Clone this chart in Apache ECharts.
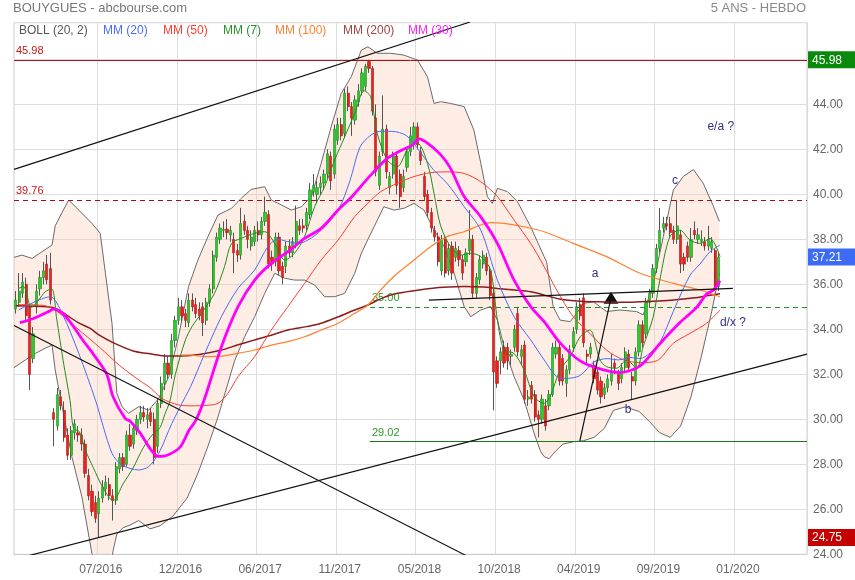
<!DOCTYPE html>
<html><head><meta charset="utf-8">
<script src="https://cdn.jsdelivr.net/npm/echarts@6/dist/echarts.min.js"></script>
<style>html,body{margin:0;padding:0;background:#fff}#c{width:855px;height:580px}</style>
</head><body><div id="c"></div>
<script>
// ---- axis scaffolding ----
const categories = Array.from({length: 229}, (_, i) => 'S' + (i + 1));
const tickIndex = [24, 47, 70, 93, 116, 139, 162, 185, 208];
const tickLabels = ['07/2016','12/2016','06/2017','11/2017','05/2018','10/2018','04/2019','09/2019','01/2020'];

// ---- weekly candles (week index = array position) ----
const open = [34.9,35.2,35.6,36.0,35.0,32.7,35.0,35.8,36.3,36.9,36.7,30.3,29.7,31.0,30.4,29.3,28.4,29.4,29.4,29.3,
28.9,27.5,26.8,26.3,25.8,26.5,26.9,27.1,26.6,26.4,27.8,28.3,28.0,29.3,28.9,29.5,30.0,30.3,30.0,30.3,
30.0,28.8,30.7,31.6,32.5,32.0,33.5,34.4,35.0,34.7,34.3,35.3,35.1,34.9,35.0,34.4,35.2,35.8,37.2,38.0,
38.4,38.45,38.2,38.0,37.5,37.3,38.8,38.4,37.7,37.9,38.4,38.2,38.8,39.1,37.2,37.0,38.1,36.8,36.8,37.7,
37.4,37.8,38.6,38.6,38.6,39.1,40.1,40.0,40.3,40.5,40.9,41.7,40.9,42.4,43.1,42.7,44.5,43.9,43.3,44.1,
44.6,44.8,45.9,45.6,43.4,40.4,41.9,42.9,40.3,40.9,41.7,40.9,40.3,41.2,41.9,42.3,43.0,41.9,40.8,40.0,
39.2,38.4,38.1,36.6,38.0,36.6,37.7,37.2,37.5,37.1,37.0,37.5,38.0,35.6,36.2,36.9,37.2,36.6,35.6,32.6,
32.6,33.2,33.2,32.8,33.2,34.7,32.8,33.3,30.9,31.5,31.1,30.2,30.0,30.6,30.6,31.1,32.9,33.2,32.7,31.6,
32.2,33.2,34.0,35.1,35.4,32.9,32.9,32.4,32.1,31.7,31.1,31.4,31.7,32.5,32.0,31.8,32.3,32.9,31.9,31.7,
33.0,34.2,33.8,35.2,35.6,36.7,37.6,38.5,38.7,38.7,38.4,38.0,38.2,37.2,37.7,37.2,38.4,38.0,37.9,37.9,
37.7,37.6,37.5,35.9];
const high = [35.7,36.5,36.5,36.3,35.1,34.1,36.0,36.6,37.0,37.3,37.4,30.5,31.4,31.3,30.8,29.6,29.7,30.0,29.7,29.6,
29.1,27.8,27.1,26.6,26.8,27.3,27.5,27.4,26.9,28.1,28.5,28.5,29.5,29.8,29.8,30.2,30.6,30.6,30.5,30.5,
30.3,30.9,31.9,32.9,32.8,33.8,34.6,35.4,35.3,34.9,35.6,35.6,35.4,35.2,35.2,35.4,36.0,37.5,38.3,38.7,
38.8,38.9,38.6,38.3,37.8,39.4,39.1,38.6,38.4,38.6,38.8,39.0,39.9,39.3,37.5,38.3,38.3,37.0,37.9,38.0,
38.1,39.5,38.9,38.9,39.4,40.5,40.9,40.6,40.8,41.1,42.0,41.9,43.1,43.4,43.4,44.7,44.8,44.1,44.4,44.9,
45.6,45.8,45.98,45.7,44.0,41.9,44.4,43.1,41.0,41.9,41.9,41.1,41.1,42.1,43.0,43.2,43.2,42.1,41.0,40.2,
39.4,38.6,38.3,38.2,38.2,37.8,37.9,37.9,37.7,37.3,37.6,39.3,38.2,36.5,37.3,37.5,37.4,36.8,35.8,32.8,
33.2,33.5,33.4,33.1,34.2,35.0,33.3,33.5,31.3,31.7,31.3,30.4,31.1,30.9,31.3,33.4,33.5,33.4,32.9,32.4,
33.3,34.1,35.2,35.4,35.6,33.1,33.4,32.6,32.3,31.9,31.6,32.0,32.9,32.7,32.2,32.5,33.2,33.1,32.1,33.2,
34.4,34.4,35.4,35.8,36.9,37.8,39.4,39.0,39.0,39.0,38.6,39.75,38.4,37.4,37.9,38.5,38.8,38.5,38.4,38.1,
38.6,38.1,37.6,37.4];
const low = [34.7,35.0,35.4,34.3,31.3,32.5,34.7,35.5,36.0,36.0,35.1,28.8,29.5,30.4,29.0,28.2,28.2,29.1,29.0,28.6,
27.4,26.4,25.7,25.4,24.75,26.3,26.6,26.4,25.5,26.2,27.6,27.7,27.9,28.6,28.7,29.3,29.8,29.9,29.6,29.7,
28.0,28.5,30.5,31.3,31.8,31.8,33.2,34.2,34.3,34.1,34.1,34.8,34.5,34.4,33.7,34.2,35.0,35.6,37.0,37.8,
38.1,38.0,37.9,36.5,37.0,37.1,38.2,37.6,37.5,37.7,37.9,38.0,38.6,36.7,36.6,36.8,36.4,36.0,36.5,37.2,
37.2,37.6,38.2,38.3,38.4,38.9,39.9,39.6,40.0,40.2,40.7,40.2,40.7,42.2,42.4,42.5,43.7,42.6,43.1,43.9,
44.4,44.6,45.4,43.5,40.8,40.2,41.7,40.7,40.0,40.7,40.0,39.4,40.1,41.0,41.7,42.0,42.0,41.3,39.7,39.0,
38.3,37.9,36.8,36.4,36.3,36.4,36.2,37.0,36.8,36.2,36.8,37.3,35.4,35.4,36.0,36.7,36.4,35.3,30.4,31.4,
32.0,32.3,32.2,32.4,33.0,32.8,32.4,30.7,30.6,30.7,29.9,29.2,29.8,29.5,30.4,31.0,32.7,31.5,31.5,31.0,
32.0,33.0,33.8,34.4,33.2,32.5,32.7,31.6,31.1,30.7,30.9,31.2,31.5,32.0,31.3,31.6,32.1,32.1,30.9,31.5,
32.8,33.2,33.6,35.0,35.4,36.5,37.4,38.3,38.4,38.1,37.8,37.8,36.5,36.6,37.0,37.0,38.0,37.8,37.7,37.5,
37.5,37.4,35.7,35.7];
const close = [35.3,35.7,36.1,34.6,32.0,33.8,35.7,36.3,36.6,36.2,35.3,30.0,31.1,30.6,29.2,28.4,29.5,29.8,29.3,28.9,
27.6,26.6,25.9,25.6,26.5,27.0,27.2,26.6,26.4,27.9,28.3,27.9,29.3,28.8,29.6,30.0,30.3,30.1,30.2,29.9,
28.3,30.7,31.6,32.5,32.0,33.5,34.4,35.0,34.6,34.4,35.3,35.0,34.7,34.6,34.3,35.2,35.8,37.3,38.1,38.5,
38.45,38.3,38.4,37.4,37.3,38.7,38.4,38.0,38.1,38.4,38.2,38.8,39.2,36.9,36.9,38.1,36.6,36.3,37.7,37.4,
37.9,38.8,38.4,38.5,39.2,40.2,40.4,40.3,40.5,40.9,41.8,40.6,42.9,43.1,42.6,44.5,43.9,43.4,44.2,44.6,
45.4,45.7,45.6,43.7,41.0,41.7,42.9,41.0,40.8,41.7,40.4,39.9,40.8,41.9,42.6,43.0,42.2,41.5,39.9,39.2,
38.5,38.1,37.0,38.0,36.5,37.6,36.5,37.6,37.1,36.5,37.4,38.0,35.6,36.3,37.1,37.3,36.6,35.5,32.1,31.6,
33.0,32.5,32.6,32.9,34.0,33.0,33.1,30.9,31.0,30.9,30.1,30.0,30.9,29.7,31.1,33.2,33.2,31.7,31.7,32.2,
33.1,33.9,35.0,34.6,33.4,32.8,33.2,31.8,31.3,31.0,31.4,31.8,32.1,32.3,31.6,32.3,33.0,32.3,31.7,33.0,
34.2,33.4,35.2,35.6,36.7,37.6,38.4,38.7,38.6,38.3,38.0,38.6,36.9,36.9,37.2,38.0,38.2,38.2,38.0,37.7,
38.0,37.9,35.9,37.21];

// ---- indicator lines: [week index, value] ----
const mm7 = [[0.8,35.82],[2.3,35.9],[4.5,34.97],[6.6,35.3],[8.5,35.67],[10.4,35.8],[11.8,34.5],[13.7,32.6],[15.7,30.82],[16.7,29.6],
[18.4,29.45],[20.1,28.64],[22.4,27.85],[25.2,26.96],[28.1,26.38],[31,27.13],[33.9,27.84],[36.8,28.73],[39.6,29.34],[41.7,29.64],
[43,30.2],[44.5,30.8],[46.1,32.0],[49,33.53],[50.9,34.12],[53.6,34.71],[57.4,35.6],[60.3,36.79],[62.3,37.82],[65.1,38.04],
[69,38.27],[71.9,38.34],[74.8,37.82],[77.7,37.08],[80.5,37.38],[83.4,38.12],[86.3,39.45],[89.2,40.34],[92.1,41.53],[95,42.56],
[97.9,43.6],[100.6,44.6],[102.5,44.34],[104.4,42.71],[107.3,41.53],[110.2,41.23],[113.1,41.97],[116,42.27],[118.9,41.38],[120.8,40.04],
[122.7,38.6],[125.6,37.67],[128.5,37.3],[131.4,37.38],[134.3,37.23],[137.1,36.64],[139.1,34.41],[141,33.08],[143.9,32.93],[146.8,32.19],
[149.7,31.01],[152.6,30.71],[154.3,31.01],[157.2,32.19],[160.1,32.79],[163,33.67],[165.8,33.97],[168.7,32.64],[170.6,32.34],[173.5,32.27],
[176.4,32.64],[179.3,32.27],[181.2,33.23],[184.1,34.56],[186,36.2],[188.9,38.12],[191.8,38.41],[194.7,37.97],[197.6,37.82],[200.5,38.04],[203.4,37.23]];
const mm20 = [[0.8,34.86],[6.6,35.3],[10,35.45],[13.4,34.71],[18.2,32.93],[23,30.86],[27.8,28.49],[30.7,27.97],[35.5,27.75],[38.4,27.9],
[41.3,28.49],[45.1,29.82],[49,31.01],[50.5,31.45],[54.6,32.93],[59.4,34.56],[64.2,35.82],[69,36.64],[72.8,37.67],[75.7,38.0],
[78.6,37.9],[81.5,37.82],[84.4,37.97],[88.2,38.41],[93.1,39.3],[96.5,40.6],[99.4,42.1],[102.3,42.6],[105,42.8],[108.6,42.8],
[112.9,42.6],[116.7,41.9],[120.6,41.1],[124.5,40.5],[129.5,39.45],[134.3,38.41],[139.1,36.19],[143.9,34.56],[148.7,33.53],[152.6,32.64],
[156.2,31.9],[159.1,31.82],[163,31.95],[167,32.55],[171,32.7],[174,32.64],[177.4,32.75],[180.3,32.7],[183.2,32.95],[186,33.4],
[189.9,34.8],[194.7,36.4],[197.6,36.9],[200.5,37.45],[203.4,37.75]];
const mm30 = [[1.2,34.3],[4.9,34.47],[9.9,34.82],[10.8,34.9],[13.7,34.69],[16.5,34.16],[19.5,33.49],[22.4,32.9],[26.3,32.0],[28.1,31.0],
[31.6,30.04],[33,29.93],[35.9,29.4],[38.8,28.7],[41.1,28.35],[43.7,28.4],[47.4,28.75],[50,29.5],[52,29.95],[54.5,30.9],
[59.4,33.23],[64.2,35.01],[69,36.19],[73.8,36.93],[78.6,37.45],[83.4,38.04],[88.2,38.49],[93.1,39.3],[97.4,39.95],[102.3,40.82],
[107.1,41.58],[111,41.93],[114.6,42.2],[116.5,42.47],[118.7,42.3],[122.5,41.8],[125.4,41.2],[129.5,39.9],[134.3,39.0],[139.1,37.82],
[143.9,36.19],[148.7,35.01],[152.6,34.34],[157.2,33.4],[163,32.6],[168.7,32.24],[174.5,32.08],[180.3,32.38],[186,33.36],[191.8,34.3],
[196.6,34.97],[199.5,35.57],[201.5,35.75],[203.4,36.16]];
const mm50 = [[0.8,35.1],[8.5,35.05],[12.8,34.7],[18.6,33.93],[24.3,33.19],[30.1,32.38],[35.9,31.71],[38.8,31.41],[42.2,30.93],[47,30.64],
[50.9,30.6],[55,30.62],[58.4,30.71],[61.3,31.16],[64.2,31.9],[69,32.79],[73.8,33.97],[78.6,35.01],[83.4,36.04],[88.2,37.08],
[93.1,37.97],[97.9,39.01],[101.7,39.6],[105.4,40.12],[110.2,40.49],[115,40.79],[119.8,40.96],[124.6,41.0],[129.5,40.93],[134.3,40.56],
[139.1,39.9],[143.9,38.86],[148.7,37.82],[152.6,36.79],[156.2,35.75],[161,34.56],[165.8,33.82],[170.6,33.08],[175.5,32.64],[180.3,32.52],
[185.1,32.6],[189.9,33.38],[194.7,33.82],[199.5,34.27],[203.4,34.86]];
const mm100 = [[48,32.85],[49.75,32.86],[54.6,32.79],[59.4,32.81],[64.2,32.93],[69,33.08],[73.8,33.3],[78.6,33.45],[83.4,33.67],[88.2,33.97],
[93.1,34.27],[97.9,34.71],[101.7,35.08],[105.4,35.75],[110.2,36.49],[115,37.08],[119.8,37.67],[124.6,38.12],[129.5,38.34],[134.3,38.64],
[137.1,38.74],[141,38.71],[146.8,38.56],[152.6,38.34],[161,37.82],[170.6,37.23],[180.3,36.49],[189.9,36.04],[197.6,35.75],[203.4,35.45]];
const mm200 = [[0,35.05],[9,35.0],[12,34.9],[15,34.6],[18,34.3],[21.4,34.05],[24,33.75],[28.1,33.41],[33.9,33.04],[38.8,32.91],
[43,32.82],[48,32.82],[53,32.88],[59.4,33.08],[64,33.3],[69,33.53],[74,33.75],[78.6,33.97],[84,34.12],[88.2,34.27],
[93,34.55],[97.9,34.86],[101.7,35.08],[106,35.4],[110.2,35.6],[115,35.72],[119.8,35.82],[125,35.88],[129.5,35.9],[135,35.88],
[139.1,35.82],[144,35.75],[148.7,35.67],[152,35.55],[157,35.35],[163,35.25],[170,35.22],[177,35.2],[184,35.25],[190,35.3],
[196,35.4],[200,35.5],[203.4,35.58]];
const bollUp = [[-0.5,37.2],[1.8,37.3],[4.7,37.15],[7.6,37.45],[10.5,37.75],[11.4,38.6],[13.4,39.2],[15.3,39.75],[18.2,39.3],[22,38.71],
[24.4,38.27],[25.9,36.49],[27.8,34.27],[29.2,31.16],[30.7,30.56],[32.6,30.27],[35.5,30.56],[38.4,30.41],[41.3,30.93],[44.2,31.9],
[47,33.67],[49.9,35.9],[52.6,37.08],[55.5,38.12],[58.4,39.08],[62.3,39.38],[65.1,39.82],[68,40.22],[71.9,40.34],[73.8,39.75],
[76.7,39.53],[79.6,39.3],[82.5,39.45],[85.4,39.9],[88.2,41.38],[91.1,43.01],[94,44.49],[96.9,45.23],[99.8,46.41],[101.7,46.56],
[104.4,46.27],[108.3,46.27],[112.1,46.19],[116,45.97],[118.9,45.23],[120.8,44.04],[122.7,44.12],[125.6,44.04],[129.5,43.9],[132.3,42.86],
[134.3,41.38],[136.2,39.9],[137.6,39.6],[139.1,40.27],[142,40.12],[144.9,39.67],[148.7,38.56],[152.6,37.23],[153.3,37.0],[155.2,35.01],
[157.2,34.41],[160.1,34.34],[162,34.71],[163.9,35.15],[166.8,35.23],[170.6,34.79],[174.5,34.86],[179.3,34.79],[181.2,34.64],[184.1,36.04],
[187,38.12],[189.9,40.19],[192.8,40.8],[195.7,41.1],[198.5,40.5],[201.4,39.5],[203.2,38.8]];
const bollDown = [[-0.5,32.3],[2.8,32.64],[5.7,32.93],[8.5,33.16],[10.5,33.3],[11.4,32.19],[13.4,30.56],[16.2,28.34],[19.1,26.56],[22,24.04],
[24,23.2],[26.8,22.9],[28.1,24.15],[29.2,24.9],[31,25.18],[33,25.3],[35.5,25.5],[38.8,25.13],[41.7,25.27],[45.4,25.7],
[49.5,26.5],[52.6,27.6],[55.5,28.8],[58.4,30.1],[60.5,31.2],[63.2,32.6],[66.1,33.67],[69,34.56],[71.9,35.6],[74.8,36.49],
[77.7,36.27],[80.5,36.19],[83.4,36.19],[86.3,35.97],[89.2,35.45],[92.1,35.45],[95,35.6],[97.9,36.49],[99.8,37.38],[101.7,38.0],
[103.5,38.56],[106.3,39.45],[109.2,39.3],[112.1,39.38],[115,39.6],[117.9,39.3],[120.8,38.41],[123.7,37.67],[126.6,36.49],[129.5,35.01],
[131.4,34.56],[134.3,34.86],[137.1,35.01],[139.1,34.41],[141,33.23],[143.9,31.9],[146.8,30.86],[149.7,29.38],[151.6,28.56],[152.6,28.34],
[154,28.25],[156,28.6],[158,28.9],[161,29.0],[164,29.05],[167,29.2],[170,29.6],[172.6,30.4],[176,30.55],[180,30.35],
[183,29.9],[186,29.4],[189,29.2],[192,29.7],[195,31.0],[198,32.8],[201,34.8],[203.2,36.5]];

// ---- drawn trend lines and levels (data coordinates) ----
const trendLines = [
  [[-0.5,41.11],[131.2,47.66]],
  [[-0.5,34.17],[130,23.95]],
  [[0,23.79],[228.5,32.9]],
  [[119.3,35.30],[207.1,35.82]],
  [[162.9,29.04],[171.9,35.4]]
];
const levels = [
  {v:45.98, from:-0.5, color:'#b01010', type:'solid', label:'45.98', lc:'#c01818'},
  {v:39.76, from:-0.5, color:'#a01010', type:[5,4], label:'39.76', lc:'#c01818'},
  {v:35.00, from:102.3, color:'#1a961a', type:[5,4], label:'35.00', lc:'#2a9a2a'},
  {v:29.02, from:102.3, color:'#1a7a1a', type:'solid', label:'29.02', lc:'#2a9a2a'}
];
const notes = [
  {name:'a', at:[167.3,36.47]}, {name:'b', at:[176.8,30.41]}, {name:'c', at:[190.4,40.6]},
  {name:'e/a ?', at:[203.6,43.0]}, {name:'d/x ?', at:[207.1,34.28]}
];
const legendItems = [
  {t:'BOLL (20, 2)', x:19, c:'#555555'}, {t:'MM (20)', x:103, c:'#4a6cf7'}, {t:'MM (50)', x:163, c:'#ff3b30'},
  {t:'MM (7)', x:223, c:'#2a922a'}, {t:'MM (100)', x:275, c:'#ff8030'}, {t:'MM (200)', x:343, c:'#a04444'},
  {t:'MM (30)', x:408, c:'#ff22ff'}
];

const FONT = 'Liberation Sans, Arial, sans-serif';
const candleData = close.map((c, i) => [i, open[i], c, low[i], high[i]]);
const bodyData = close.map((c, i) => [i, open[i], c, Math.min(open[i], c), Math.max(open[i], c)]);
const badgeValues = [Math.max(...high), close[close.length - 1], Math.min(...low)];

function maLine(name, data, color, width) {
  return {type:'line', name, xAxisIndex:1, yAxisIndex:0, data, showSymbol:false, smooth:0.3,
    lineStyle:{color, width}, silent:true, z:5};
}

const chart = echarts.init(document.getElementById('c'), null, {renderer:'canvas'});
const option = {
  animation:false,
  textStyle:{fontFamily:FONT},
  title:[
    {text:'BOUYGUES - abcbourse.com', left:13, top:2, padding:0, textStyle:{fontSize:13, fontWeight:'normal', color:'#777', fontFamily:FONT}},
    {text:'5 ANS - HEBDO', right:49, top:2, padding:0, textStyle:{fontSize:13, fontWeight:'normal', color:'#888', fontFamily:FONT}}
  ],
  grid:{left:14, right:48, top:22.7, bottom:25.7, show:true, borderColor:'#cccccc', borderWidth:1},
  xAxis:[
    {type:'category', data:categories, boundaryGap:true,
      axisLine:{show:true, lineStyle:{color:'#cccccc'}}, axisTick:{show:false},
      splitLine:{show:true, interval:(i) => tickIndex.includes(i), lineStyle:{color:'#dddddd'}},
      axisLabel:{interval:(i) => tickIndex.includes(i), formatter:(v, i) => tickLabels[tickIndex.indexOf(i)] || '',
        color:'#666', fontSize:12, margin:9, padding:[0,0,0,4], fontFamily:FONT}},
    {type:'value', min:-0.5, max:228.5, show:false}
  ],
  yAxis:[{type:'value', position:'right', min:24, max:47.63, interval:2, scale:true,
    axisLine:{show:false}, axisTick:{show:false},
    splitLine:{lineStyle:{color:'#dddddd'}},
    axisLabel:{formatter:(v) => badgeValues.some(b => Math.abs(b - v) < 0.5) ? '' : v.toFixed(2),
      color:'#666', fontSize:12, margin:6, showMaxLabel:false, fontFamily:FONT}}],
  series:[
    {type:'custom', xAxisIndex:1, yAxisIndex:0, data:[0], silent:true, z:1,
      renderItem:(params, api) => {
        const pts = bollUp.map(p => api.coord(p)).concat(bollDown.slice().reverse().map(p => api.coord(p)));
        const cs = params.coordSys;
        return {type:'polygon', shape:{points: echarts.graphic.clipPointsByRect(pts, {x:cs.x, y:cs.y, width:cs.width, height:cs.height})},
          style:{fill:'rgba(250,200,170,0.32)'}};
      }},
    {type:'line', name:'BOLL up', xAxisIndex:1, data:bollUp, showSymbol:false, lineStyle:{color:'#6a6a6a', width:1}, silent:true, z:3},
    {type:'line', name:'BOLL down', xAxisIndex:1, data:bollDown, showSymbol:false, lineStyle:{color:'#6a6a6a', width:1}, silent:true, z:3},
    {type:'candlestick', name:'wick', xAxisIndex:1, yAxisIndex:0, data:candleData, encode:{x:0, y:[1,2,3,4]}, barWidth:1, silent:true, z:4,
      itemStyle:{color:'#555', color0:'#555', borderColor:'#555', borderColor0:'#555', borderWidth:1}},
    {type:'candlestick', name:'BOUYGUES', xAxisIndex:1, yAxisIndex:0, data:bodyData, encode:{x:0, y:[1,2,3,4]}, barWidth:2.7, silent:true, z:4,
      itemStyle:{color:'#2fc92f', color0:'#e8221c', borderColor:'#1c8f1c', borderColor0:'#b81616', borderWidth:0.6}},
    maLine('MM (200)', mm200, '#8b1c1c', 1.5),
    maLine('MM (100)', mm100, '#ff8030', 1.2),
    maLine('MM (50)', mm50, '#ff3b30', 1),
    maLine('MM (20)', mm20, '#4a6cf7', 1),
    maLine('MM (7)', mm7, '#228a22', 1),
    maLine('MM (30)', mm30, '#ff00ff', 2.8),
    ...trendLines.map((d, k) => ({type:'line', name:'trend' + k, xAxisIndex:1, data:d, showSymbol:false,
      lineStyle:{color:'#111', width:1.2}, silent:true, z:6})),
    {type:'line', name:'levels', xAxisIndex:1, data:[[0, 30]], showSymbol:false, lineStyle:{opacity:0}, silent:true, z:6,
      markLine:{symbol:'none', silent:true, animation:false,
        data: levels.map(l => [
          {coord:[l.from, l.v], lineStyle:{color:l.color, type:l.type, width:1},
            label:{show:true, position:'insideStartTop', formatter:l.label, color:l.lc, fontSize:11, distance:[2,3], fontFamily:FONT}},
          {coord:[228.5, l.v]}
        ])},
      markPoint:{silent:true, animation:false,
        data: notes.map(n => ({name:n.name, coord:n.at, symbol:'circle', symbolSize:0,
          label:{show:true, position:'inside', formatter:'{b}', color:'#30308a', fontSize:12, fontFamily:FONT}}))
          .concat([{name:'', coord:[171.9,35.4], symbol:'triangle', symbolSize:[15,12], itemStyle:{color:'#111'}, label:{show:false}}])}}
  ]
};
chart.setOption(option);

// badges on the price axis, positioned through the y scale
const badgeColors = ['#0a8a0a', '#3c6cf5', '#c40000'];
const graphics = badgeValues.map((v, k) => {
  const y = chart.convertToPixel({yAxisIndex:0}, v);
  return {type:'group', x:808, y:y - 8.5, z:100, children:[
    {type:'rect', z:100, shape:{x:0, y:0, width:47, height:17}, style:{fill:badgeColors[k]}},
    {type:'text', z:101, x:4, y:9, style:{text:v.toFixed(2), fill:'#fff', font:'12px ' + FONT, verticalAlign:'middle', align:'left'}}
  ]};
}).concat(legendItems.map(l => ({type:'text', x:l.x, y:31, z:100,
  style:{text:l.t, fill:l.c, font:'12px ' + FONT, verticalAlign:'middle', align:'left'}})));
chart.setOption({graphic: graphics});
</script></body></html>
